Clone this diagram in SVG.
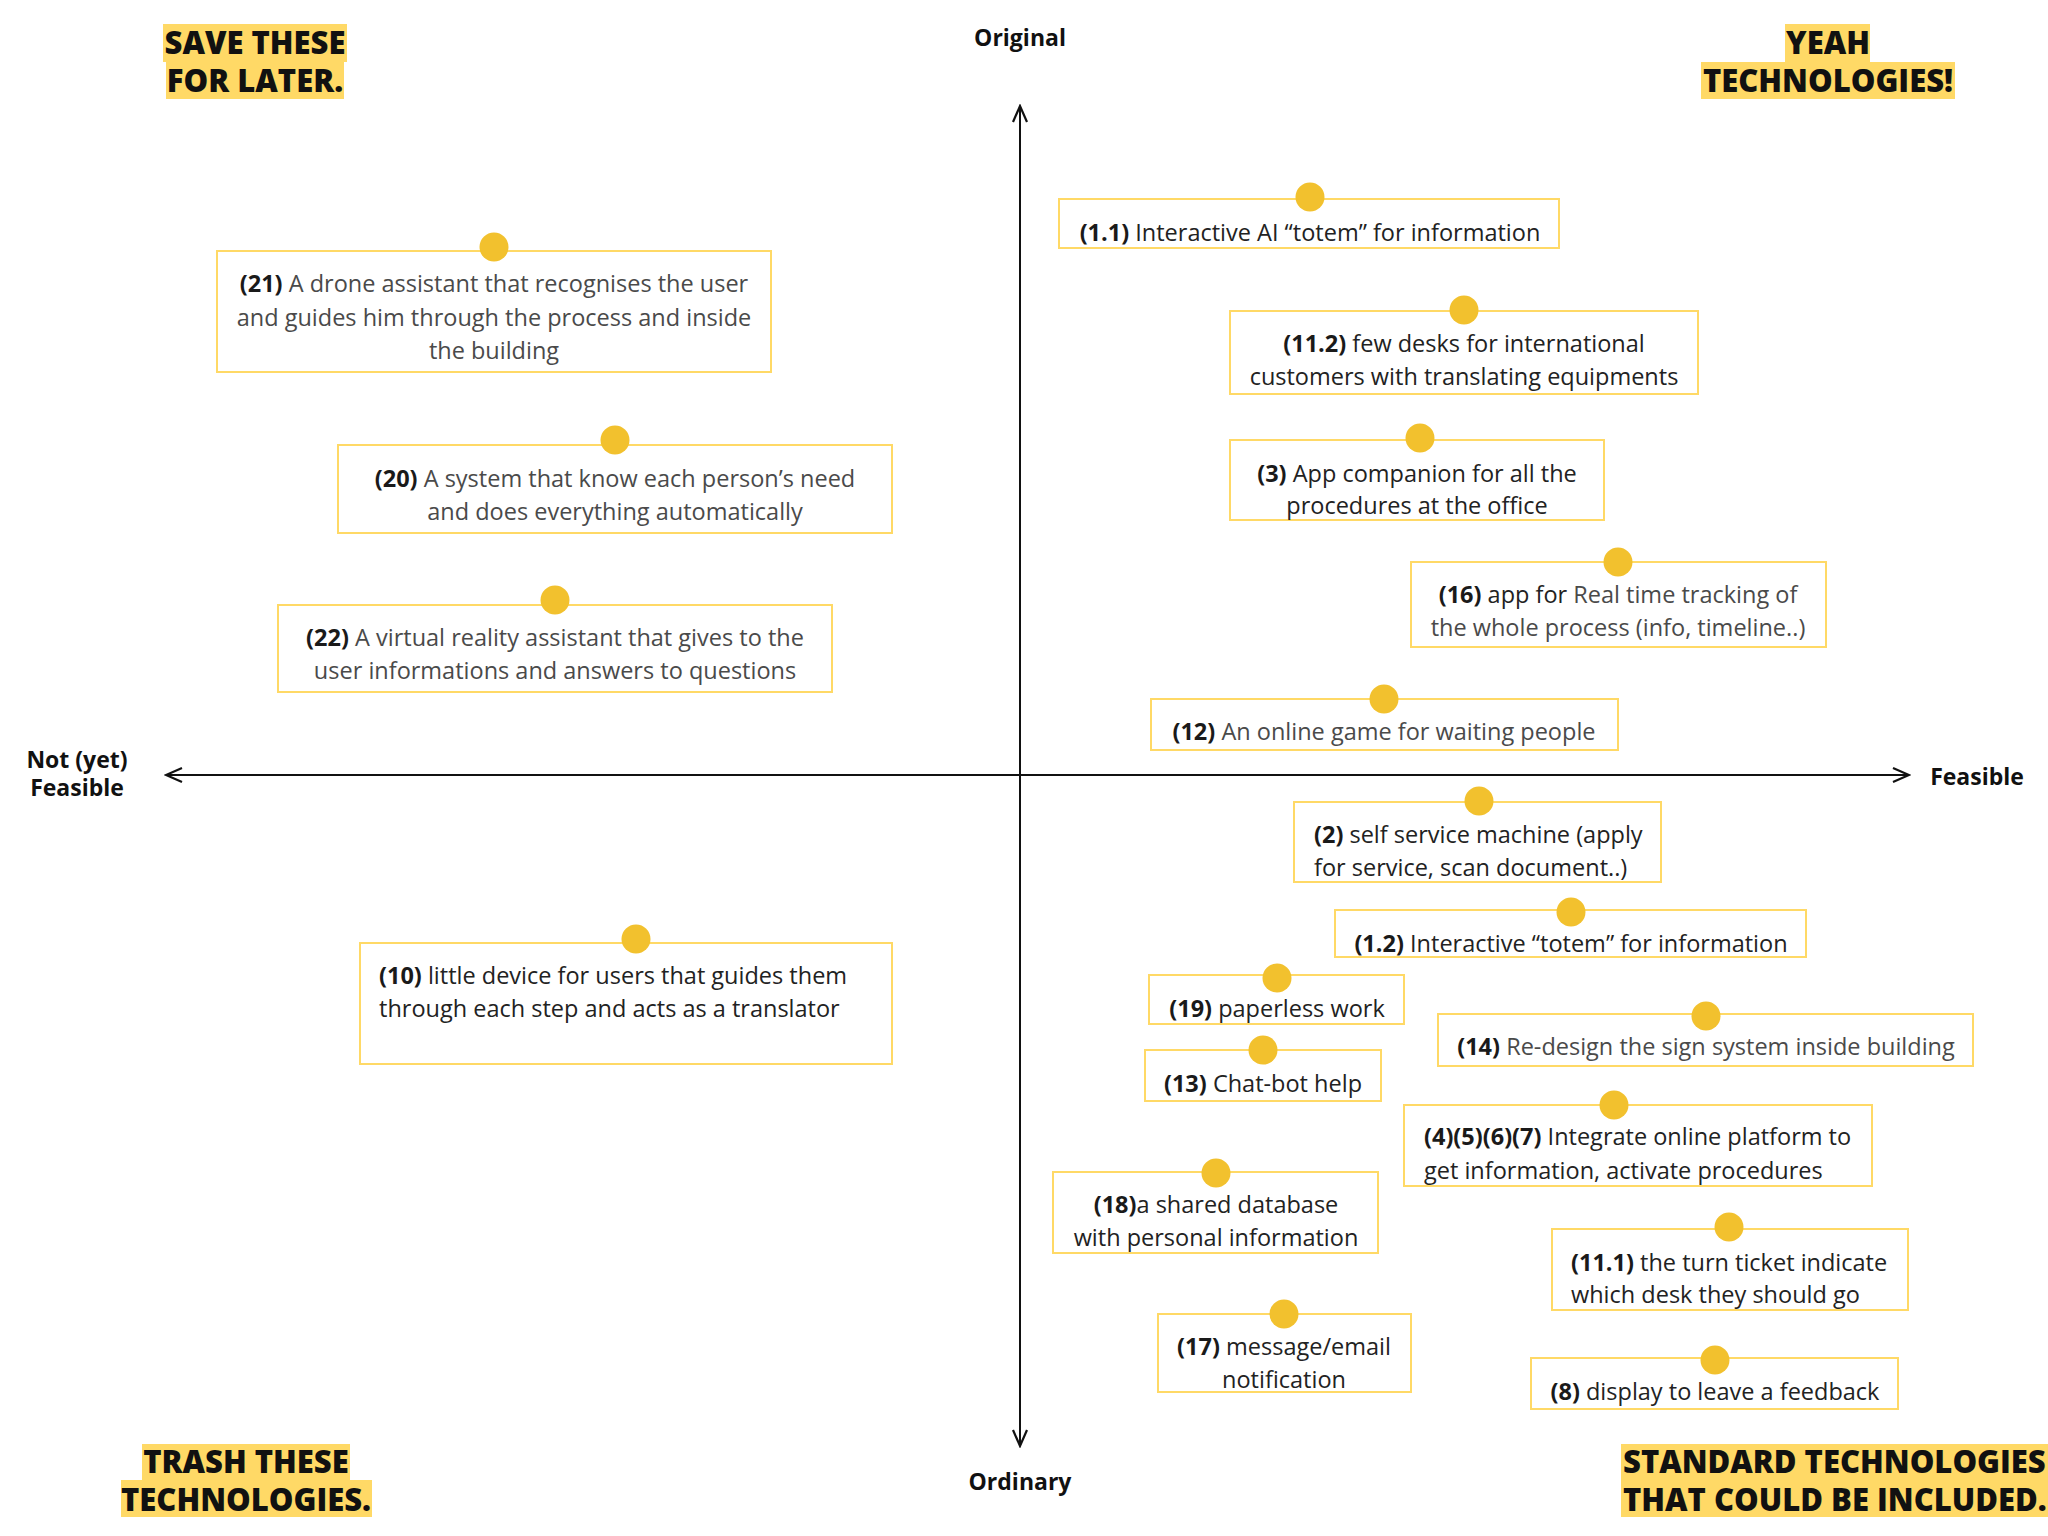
<svg xmlns="http://www.w3.org/2000/svg" width="2048" height="1536" viewBox="0 0 2048 1536">
<style>
.t{font-family:"Open Sans","Noto Sans","Liberation Sans",sans-serif;font-size:23.5px;fill:#222}
.g{fill:#4a4a4a}
.b{font-weight:700;fill:#1a1a1a}
.c{text-anchor:middle}
.box{fill:#fff;stroke:#FFD966;stroke-width:2}
.dot{fill:#F2C12E}
.ax{font-family:"Open Sans","Noto Sans","Liberation Sans",sans-serif;font-size:23px;font-weight:700;fill:#111;text-anchor:middle}
.q{font-family:"Open Sans","Noto Sans","Liberation Sans",sans-serif;font-size:31px;font-weight:800;fill:#111}
.hl{fill:#FFD966}
.axis{stroke:#111;stroke-width:2;fill:none}
</style>
<defs>
<marker id="arr" viewBox="0 0 20 20" refX="18" refY="10" markerWidth="20" markerHeight="20" markerUnits="userSpaceOnUse" orient="auto">
<path d="M2,3 L18,10 L2,17" fill="none" stroke="#111" stroke-width="2.2"/>
</marker>
</defs>
<rect width="2048" height="1536" fill="#fff"/>

<g id="quadrant-titles">
<rect class="hl" x="163" y="24" width="184" height="38"/>
<rect class="hl" x="166" y="62" width="178" height="37"/>
<text class="q" text-anchor="middle"><tspan x="255" y="54">SAVE THESE</tspan><tspan x="255" y="92">FOR LATER.</tspan></text>
<rect class="hl" x="1785" y="24" width="85" height="38"/>
<rect class="hl" x="1701" y="62" width="254" height="37"/>
<text class="q" text-anchor="middle"><tspan x="1828" y="54">YEAH</tspan><tspan x="1828" y="92">TECHNOLOGIES!</tspan></text>
<rect class="hl" x="142" y="1444" width="208" height="36"/>
<rect class="hl" x="121" y="1480" width="251" height="37"/>
<text class="q" text-anchor="middle"><tspan x="246" y="1473">TRASH THESE</tspan><tspan x="246" y="1511">TECHNOLOGIES.</tspan></text>
<rect class="hl" x="1621" y="1444" width="427" height="73"/>
<text class="q"><tspan x="1623" y="1473">STANDARD TECHNOLOGIES</tspan><tspan x="1623" y="1511">THAT COULD BE INCLUDED.</tspan></text>
</g>

<g id="axes">
<line class="axis" x1="1020" y1="1446" x2="1020" y2="106" marker-end="url(#arr)"/>
<line class="axis" x1="1020" y1="106" x2="1020" y2="1446" marker-end="url(#arr)"/>
<line class="axis" x1="1020" y1="775" x2="166" y2="775" marker-end="url(#arr)"/>
<line class="axis" x1="1020" y1="775" x2="1909" y2="775" marker-end="url(#arr)"/>
<text class="ax" x="1020" y="46">Original</text>
<text class="ax" x="1020" y="1490">Ordinary</text>
<text class="ax"><tspan x="77" y="768">Not (yet)</tspan><tspan x="77" y="796">Feasible</tspan></text>
<text class="ax" x="1977" y="785">Feasible</text>
</g>

<g id="n21">
<rect class="box" x="217" y="251" width="554" height="121"/>
<circle class="dot" cx="494" cy="247" r="14.5"/>
<text class="t g c" x="494" y="292"><tspan class="b">(21)</tspan> A drone assistant that recognises the user</text>
<text class="t g c" x="494" y="326">and guides him through the process and inside</text>
<text class="t g c" x="494" y="359">the building</text>
</g>

<g id="n1-1">
<rect class="box" x="1059" y="199" width="500" height="49"/>
<circle class="dot" cx="1310" cy="197" r="14.5"/>
<text class="t c" x="1310" y="241"><tspan class="b">(1.1)</tspan> Interactive AI “totem” for information</text>
</g>

<g id="n11-2">
<rect class="box" x="1230" y="311" width="468" height="83"/>
<circle class="dot" cx="1464" cy="310" r="14.5"/>
<text class="t c" x="1464" y="352"><tspan class="b">(11.2)</tspan> few desks for international</text>
<text class="t c" x="1464" y="385">customers with translating equipments</text>
</g>

<g id="n20">
<rect class="box" x="338" y="445" width="554" height="88"/>
<circle class="dot" cx="615" cy="440" r="14.5"/>
<text class="t g c" x="615" y="487"><tspan class="b">(20)</tspan> A system that know each person’s need</text>
<text class="t g c" x="615" y="520">and does everything automatically</text>
</g>

<g id="n3">
<rect class="box" x="1230" y="440" width="374" height="80"/>
<circle class="dot" cx="1420" cy="438" r="14.5"/>
<text class="t c" x="1417" y="482"><tspan class="b">(3)</tspan> App companion for all the</text>
<text class="t c" x="1417" y="514">procedures at the office</text>
</g>

<g id="n16">
<rect class="box" x="1411" y="562" width="415" height="85"/>
<circle class="dot" cx="1618" cy="562" r="14.5"/>
<text class="t c" x="1618" y="603"><tspan class="b">(16)</tspan> app for <tspan class="g">Real time tracking of</tspan></text>
<text class="t g c" x="1618" y="636">the whole process (info, timeline..)</text>
</g>

<g id="n22">
<rect class="box" x="278" y="605" width="554" height="87"/>
<circle class="dot" cx="555" cy="600" r="14.5"/>
<text class="t g c" x="555" y="646"><tspan class="b">(22)</tspan> A virtual reality assistant that gives to the</text>
<text class="t g c" x="555" y="679">user informations and answers to questions</text>
</g>

<g id="n12">
<rect class="box" x="1151" y="699" width="467" height="51"/>
<circle class="dot" cx="1384" cy="699" r="14.5"/>
<text class="t g c" x="1384" y="740"><tspan class="b">(12)</tspan> An online game for waiting people</text>
</g>

<g id="n2">
<rect class="box" x="1294" y="802" width="367" height="80"/>
<circle class="dot" cx="1479" cy="801" r="14.5"/>
<text class="t" x="1314" y="843"><tspan class="b">(2)</tspan> self service machine (apply</text>
<text class="t" x="1314" y="876">for service, scan document..)</text>
</g>

<g id="n1-2">
<rect class="box" x="1335" y="910" width="471" height="47"/>
<circle class="dot" cx="1571" cy="912" r="14.5"/>
<text class="t c" x="1571" y="952"><tspan class="b">(1.2)</tspan> Interactive “totem” for information</text>
</g>

<g id="n10">
<rect class="box" x="360" y="943" width="532" height="121"/>
<circle class="dot" cx="636" cy="939" r="14.5"/>
<text class="t" x="379" y="984"><tspan class="b">(10)</tspan> little device for users that guides them</text>
<text class="t" x="379" y="1017">through each step and acts as a translator</text>
</g>

<g id="n19">
<rect class="box" x="1149" y="975" width="255" height="49"/>
<circle class="dot" cx="1277" cy="978" r="14.5"/>
<text class="t c" x="1277" y="1017"><tspan class="b">(19)</tspan> paperless work</text>
</g>

<g id="n14">
<rect class="box" x="1438" y="1014" width="535" height="52"/>
<circle class="dot" cx="1706" cy="1016" r="14.5"/>
<text class="t g c" x="1706" y="1055"><tspan class="b">(14)</tspan> Re-design the sign system inside building</text>
</g>

<g id="n13">
<rect class="box" x="1145" y="1050" width="236" height="51"/>
<circle class="dot" cx="1263" cy="1050" r="14.5"/>
<text class="t c" x="1263" y="1092"><tspan class="b">(13)</tspan> Chat-bot help</text>
</g>

<g id="n4-7">
<rect class="box" x="1404" y="1105" width="468" height="81"/>
<circle class="dot" cx="1614" cy="1105" r="14.5"/>
<text class="t" x="1424" y="1145"><tspan class="b">(4)(5)(6)(7)</tspan> Integrate online platform to</text>
<text class="t" x="1424" y="1179">get information, activate procedures</text>
</g>

<g id="n18">
<rect class="box" x="1053" y="1172" width="325" height="81"/>
<circle class="dot" cx="1216" cy="1173" r="14.5"/>
<text class="t c" x="1216" y="1213"><tspan class="b">(18)</tspan>a shared database</text>
<text class="t c" x="1216" y="1246">with personal information</text>
</g>

<g id="n11-1">
<rect class="box" x="1552" y="1229" width="356" height="81"/>
<circle class="dot" cx="1729" cy="1227" r="14.5"/>
<text class="t" x="1571" y="1271"><tspan class="b">(11.1)</tspan> the turn ticket indicate</text>
<text class="t" x="1571" y="1303">which desk they should go</text>
</g>

<g id="n17">
<rect class="box" x="1158" y="1314" width="253" height="78"/>
<circle class="dot" cx="1284" cy="1314" r="14.5"/>
<text class="t c" x="1284" y="1355"><tspan class="b">(17)</tspan> message/email</text>
<text class="t c" x="1284" y="1388">notification</text>
</g>

<g id="n8">
<rect class="box" x="1531" y="1358" width="367" height="51"/>
<circle class="dot" cx="1715" cy="1360" r="14.5"/>
<text class="t c" x="1715" y="1400"><tspan class="b">(8)</tspan> display to leave a feedback</text>
</g>
</svg>
